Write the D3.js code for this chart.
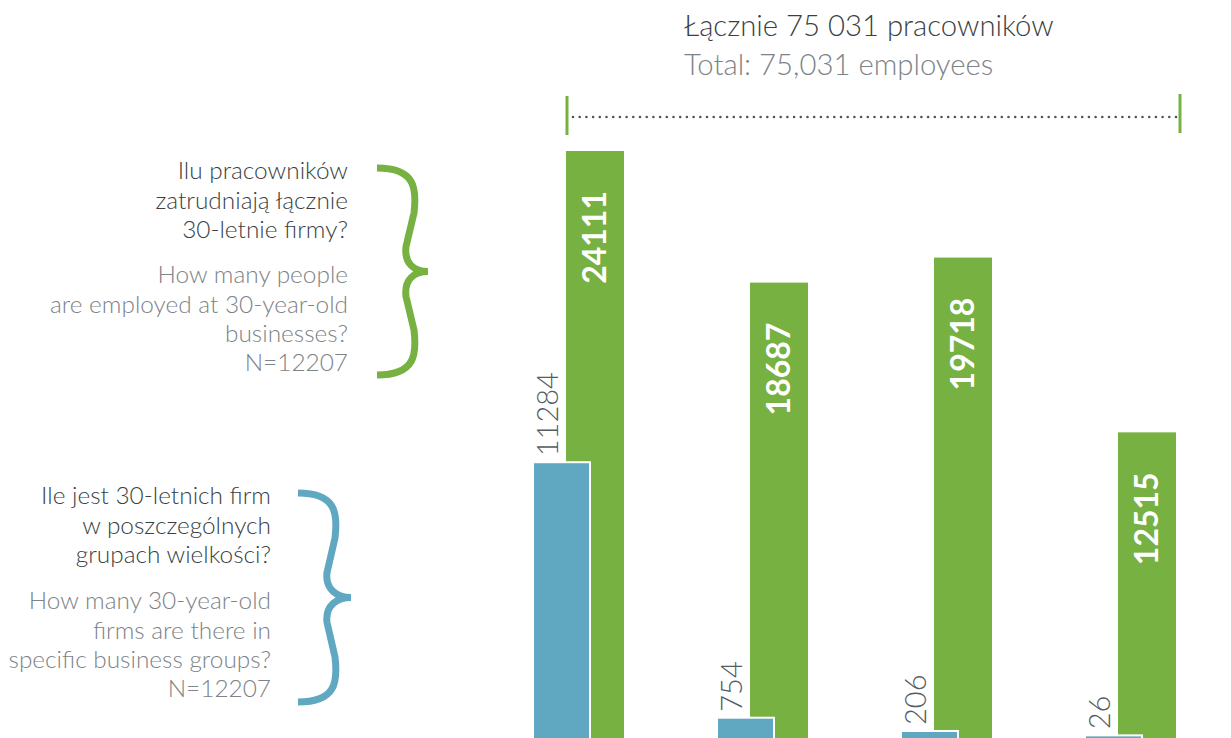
<!DOCTYPE html>
<html><head><meta charset="utf-8">
<script src="https://cdn.jsdelivr.net/npm/d3@7"></script>
<style>
html,body{margin:0;padding:0;background:#fff;}
svg{display:block;font-family:Lato,"Open Sans",sans-serif;}
</style></head>
<body><svg id="c" width="1231" height="738"></svg>
<script>
const categories = ["1-9", "10-49", "50-249", "250+"];
const firms = [11284, 754, 206, 26];
const employees = [24111, 18687, 19718, 12515];
const titlePL = "Łącznie 75 031 pracowników";
const titleEN = "Total: 75,031 employees";
const empTextPL = ["Ilu pracowników", "zatrudniają łącznie", "30-letnie firmy?"];
const empTextEN = ["How many people", "are employed at 30-year-old", "businesses?", "N=12207"];
const firmTextPL = ["Ile jest 30-letnich firm", "w poszczególnych", "grupach wielkości?"];
const firmTextEN = ["How many 30-year-old", "firms are there in", "specific business groups?", "N=12207"];

const GREEN = "#77b142", BLUE = "#60a8c1", DARK = "#3a3f43", GRAY = "#7d8387", LABEL = "#555d62";
const svg = d3.select("#c");

const x = d3.scaleBand().domain(categories).range([532, 1176]).paddingInner(0.5).paddingOuter(0);
const y = d3.scaleLinear().domain([0, d3.max(employees)]).range([736, 151]);
const bw = 58, gOff = x.bandwidth() - bw;

// green bars
svg.selectAll("rect.g").data(employees).join("rect")
  .attr("x", (d,i) => x(categories[i]) + gOff).attr("width", bw)
  .attr("y", d => y(d)).attr("height", d => y(0) - y(d) + 10)
  .attr("fill", GREEN);
// blue bars
svg.selectAll("rect.b").data(firms).join("rect")
  .attr("x", (d,i) => x(categories[i]) + 1).attr("width", bw - 1)
  .attr("y", d => y(d)).attr("height", d => y(0) - y(d) + 10)
  .attr("fill", BLUE).attr("stroke", "#fff").attr("stroke-width", 2);

// green labels
svg.selectAll("text.g").data(employees).join("text")
  .attr("transform", (d,i) => `translate(${x(categories[i]) + gOff + bw/2 + 11},${y(d) + 40}) rotate(-90)`)
  .attr("text-anchor", "end").attr("fill", "#fff")
  .style("font-size", "32px").style("font-weight", 700).text(d => d);
// blue labels
svg.selectAll("text.b").data(firms).join("text")
  .attr("transform", (d,i) => `translate(${x(categories[i]) + 26},${y(d) - 6}) rotate(-90)`)
  .attr("text-anchor", "start").attr("fill", LABEL)
  .style("font-size", "29px").style("font-weight", 300).text(d => d);

// total bracket
svg.append("line").attr("x1", 573).attr("x2", 1177).attr("y1", 117).attr("y2", 117)
  .attr("stroke", "#4f555a").attr("stroke-width", 2.6).attr("stroke-linecap", "round")
  .attr("stroke-dasharray", "0,6.7");
svg.append("line").attr("x1", 567).attr("x2", 567).attr("y1", 96).attr("y2", 135)
  .attr("stroke", GREEN).attr("stroke-width", 3);
svg.append("line").attr("x1", 1180).attr("x2", 1180).attr("y1", 94).attr("y2", 133)
  .attr("stroke", GREEN).attr("stroke-width", 3);

svg.append("text").attr("x", 684).attr("y", 36).attr("fill", DARK)
  .style("font-size", "29.3px").style("font-weight", 300).text(titlePL);
svg.append("text").attr("x", 684).attr("y", 75).attr("fill", GRAY)
  .style("font-size", "29.3px").style("font-weight", 300).text(titleEN);

function block(lines, xr, ys, color) {
  lines.forEach((t, i) => svg.append("text").attr("x", xr).attr("y", ys[i])
    .attr("text-anchor", "end").attr("fill", color)
    .style("font-size", "24.4px").style("font-weight", 300).text(t));
}
block(empTextPL, 348, [179, 208.5, 238], DARK);
block(empTextEN, 348, [283, 312.5, 342, 371], GRAY);
block(firmTextPL, 271, [504, 533.5, 563], DARK);
block(firmTextEN, 271, [609, 638.5, 668, 697], GRAY);

function brace(xl, yt, yb, xt, bulge, color) {
  const ym = (yt + yb) / 2;
  const xb = xl + bulge;
  const p = `M${xl},${yt} C${xb+4},${yt} ${xb+6},${yt+20} ${xb+3},${yt+45}
    L${xb-5},${ym-25} C${xb-7},${ym-8} ${xt-14},${ym} ${xt},${ym}
    C${xt-14},${ym} ${xb-7},${ym+8} ${xb-5},${ym+25}
    L${xb+3},${yb-45} C${xb+6},${yb-20} ${xb+4},${yb} ${xl},${yb}`;
  svg.append("path").attr("d", p).attr("fill", "none").attr("stroke", color)
    .attr("stroke-width", 7).attr("stroke-linejoin", "miter");
}
brace(377, 168, 375, 428, 34, GREEN);
brace(298, 493, 702, 351, 34, BLUE);
</script></body></html>
